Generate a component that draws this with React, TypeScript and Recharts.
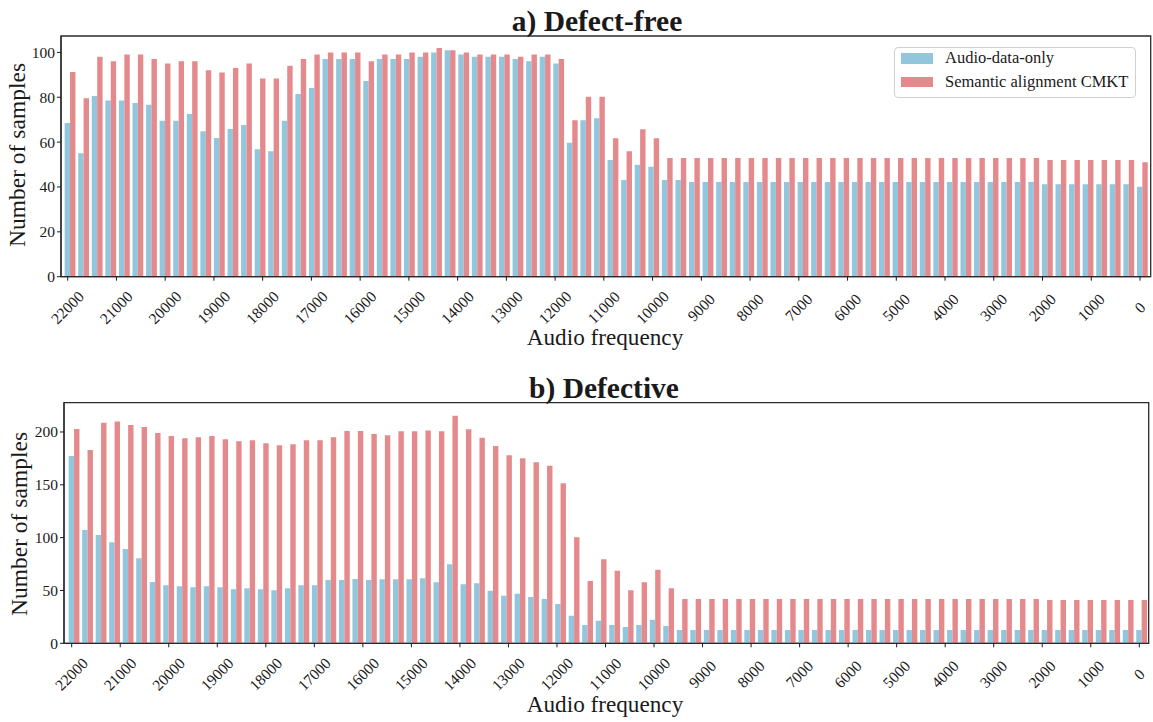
import React from "react";
import { BarChart, Bar, XAxis, YAxis, Legend, ReferenceArea } from "recharts";

// 80 frequency bins, 22000 Hz down to 0
const FREQS = [
  22000, 21722, 21443, 21165, 20886, 20608, 20329, 20051, 19772, 19494,
  19215, 18937, 18658, 18380, 18101, 17823, 17544, 17266, 16987, 16709,
  16430, 16152, 15873, 15595, 15316, 15038, 14759, 14481, 14203, 13924,
  13646, 13367, 13089, 12810, 12532, 12253, 11975, 11696, 11418, 11139,
  10861, 10582, 10304, 10025, 9747, 9468, 9190, 8911, 8633, 8354,
  8076, 7797, 7519, 7241, 6962, 6684, 6405, 6127, 5848, 5570,
  5291, 5013, 4734, 4456, 4177, 3899, 3620, 3342, 3063, 2785,
  2506, 2228, 1949, 1671, 1392, 1114, 835, 557, 278, 0,
];

// a) Defect-free
const CLEAN_AUDIO = [
  68.5, 55, 80.5, 78.5, 78.5, 77.4, 76.7, 69.5, 69.5, 72.5,
  64.8, 61.8, 65.8, 67.6, 56.8, 55.9, 69.5, 81.4, 84.1, 97,
  97, 97, 87.2, 97, 97, 97, 98, 100, 101, 99,
  98, 98, 98, 97, 96, 98, 95, 59.7, 69.7, 70.6,
  52, 43.1, 49.9, 49, 43.1, 43.1, 42.2, 42.2, 42.2, 42.2,
  42.2, 42.2, 42.2, 42.2, 42.2, 42.2, 42.2, 42.2, 42.2, 42.2,
  42.2, 42.2, 42.2, 42.2, 42.2, 42.2, 42.2, 42.2, 42.2, 42.2,
  42.2, 42.2, 41.2, 41.2, 41.2, 41.2, 41.2, 41.2, 41.2, 40.1,
];
const CLEAN_CMKT = [
  91.2, 79.5, 98, 96, 99, 99, 97, 95, 96, 96,
  92, 91, 93, 95, 88.3, 88.3, 94, 97, 99, 100,
  100, 100, 96, 99, 99, 100, 100, 102, 101, 100,
  99, 99, 99, 98, 99, 99, 97, 69.7, 80.2, 80.2,
  61.7, 55.9, 65.7, 61.7, 52.9, 52.9, 52.9, 52.9, 52.9, 52.9,
  52.9, 52.9, 52.9, 52.9, 52.9, 52.9, 52.9, 52.9, 52.9, 52.9,
  52.9, 52.9, 52.9, 52.9, 52.9, 52.9, 52.9, 52.9, 52.9, 52.9,
  52.9, 52.9, 52, 52, 52, 52, 52, 52, 52, 51,
];

// b) Defective
const DEFECT_AUDIO = [
  177.3, 107.3, 102.5, 95.6, 89.3, 80.4, 58, 54.9, 53.9, 53,
  53.9, 53, 51.1, 52, 51.1, 50.2, 52, 54.9, 54.9, 59.9,
  59.9, 60.9, 59.9, 60.5, 60.5, 60.5, 61.5, 57.7, 74.8, 55.8,
  56.8, 49.8, 45.1, 47, 43.8, 41.9, 37.2, 26.1, 17.3, 21.4,
  17.3, 15.4, 17.3, 22.3, 16.4, 12.6, 12.6, 12.6, 12.6, 12.6,
  12.6, 12.6, 12.6, 12.6, 12.6, 12.6, 12.6, 12.6, 12.6, 12.6,
  12.6, 12.6, 12.6, 12.6, 12.6, 12.6, 12.6, 12.6, 12.6, 12.6,
  12.6, 12.6, 12.6, 12.6, 12.6, 12.6, 12.6, 12.6, 12.6, 12.6,
];
const DEFECT_CMKT = [
  202.8, 183, 208.8, 209.8, 206.6, 204.7, 199, 196.2, 194, 195,
  196.2, 193, 191.2, 192.1, 189.3, 187.4, 188.3, 192.1, 192.1, 195,
  201, 201, 198, 196.8, 200.6, 200.6, 201.5, 200.6, 215.4, 202.5,
  194.6, 186.7, 177.9, 175.1, 171.3, 168.1, 151.4, 100.3, 59, 79.5,
  68.7, 50.1, 57.7, 69.7, 52, 41.9, 41.9, 41.9, 41.9, 41.9,
  41.9, 41.9, 41.9, 41.9, 41.9, 41.9, 41.9, 41.9, 41.9, 41.9,
  41.9, 41.9, 41.9, 41.9, 41.9, 41.9, 41.9, 41.9, 41.9, 41.9,
  41.9, 41.9, 41, 41, 41, 41, 41, 41, 41, 41,
];

const FREQ_TICKS = [
  22000, 21000, 20000, 19000, 18000, 17000, 16000, 15000, 14000, 13000, 12000,
  11000, 10000, 9000, 8000, 7000, 6000, 5000, 4000, 3000, 2000, 1000, 0,
];
const CLEAN_Y_TICKS = [0, 20, 40, 60, 80, 100];
const DEFECT_Y_TICKS = [0, 50, 100, 150, 200];

const BLUE = "#92C6DD";
const RED = "#E48A8C";
const INK = "#1a1a1a";
const FONT = "'Liberation Serif', 'Times New Roman', serif";

const toRows = (audio: number[], cmkt: number[]) =>
  FREQS.map((freq, i) => ({ freq, audio: audio[i], cmkt: cmkt[i] }));

function AngledTick({ x, y, payload }: any) {
  const cy = y + 25;
  return (
    <text
      x={x}
      y={cy}
      dy="0.33em"
      textAnchor="middle"
      transform={`rotate(-45, ${x}, ${cy})`}
      fontSize={15.5}
      fontFamily={FONT}
      fill={INK}
    >
      {payload.value}
    </text>
  );
}

function LegendBox({ payload }: any) {
  return (
    <div
      style={{
        position: "relative",
        width: 242,
        height: 51,
        boxSizing: "border-box",
        border: "1px solid #d0d0d0",
        borderRadius: 4,
        background: "rgba(255,255,255,0.85)",
        fontFamily: FONT,
        fontSize: 16.5,
        color: INK,
      }}
    >
      {(payload || []).map((item: any, i: number) => (
        <div
          key={item.value}
          style={{ position: "absolute", left: 6, top: 5.6 + i * 23.4, display: "flex", alignItems: "center", height: 10.7 }}
        >
          <span style={{ display: "inline-block", width: 32, height: 10.7, background: item.color }} />
          <span style={{ marginLeft: 12, whiteSpace: "nowrap", lineHeight: "10.7px" }}>{item.value}</span>
        </div>
      ))}
    </div>
  );
}

interface PanelProps {
  rows: { freq: number; audio: number; cmkt: number }[];
  yMax: number;
  yTicks: number[];
  height: number;
  margin: { top: number; right: number; bottom: number; left: number };
  xDomain: [number, number];
  shift: number; // Hz, puts the blue bar centred on its frequency
  barSize: number;
  legend?: boolean;
}

function Panel({ rows, yMax, yTicks, height, margin, xDomain, shift, barSize, legend }: PanelProps) {
  const frame = { stroke: "#2b2b2b", strokeWidth: 1.3 };
  return (
    <BarChart width={1153} height={height} data={rows} margin={margin} barGap={0}>
      <XAxis
        xAxisId="freq"
        dataKey="freq"
        type="number"
        domain={xDomain}
        reversed
        allowDataOverflow
        ticks={FREQ_TICKS}
        interval={0}
        tick={<AngledTick />}
        tickSize={4}
        tickMargin={2}
        height={60}
        axisLine={frame}
        tickLine={{ stroke: INK }}
      />
      <XAxis
        xAxisId="bars"
        dataKey="freq"
        type="number"
        domain={[xDomain[0] + shift, xDomain[1] + shift]}
        reversed
        hide
        height={0}
        allowDataOverflow
      />
      <YAxis
        yAxisId="y"
        type="number"
        domain={[0, yMax]}
        allowDataOverflow
        ticks={yTicks}
        interval={0}
        width={45}
        tickSize={4}
        tickMargin={2}
        tick={{ fontSize: 15.5, fontFamily: FONT, fill: INK }}
        axisLine={frame}
        tickLine={{ stroke: INK }}
      />
      <Bar xAxisId="bars" yAxisId="y" dataKey="audio" name="Audio-data-only" fill={BLUE} barSize={barSize} isAnimationActive={false} />
      <Bar xAxisId="bars" yAxisId="y" dataKey="cmkt" name="Semantic alignment CMKT" fill={RED} barSize={barSize} isAnimationActive={false} />
      {/* plot frame (top and right spines) */}
      <ReferenceArea
        xAxisId="freq"
        yAxisId="y"
        x1={xDomain[1]}
        x2={xDomain[0]}
        y1={0}
        y2={yMax}
        fill="none"
        fillOpacity={0}
        stroke="#2b2b2b"
        strokeWidth={1.3}
        strokeOpacity={1}
        ifOverflow="visible"
      />
      {legend && (
        <Legend
          layout="horizontal"
          verticalAlign="middle"
          align="center"
          content={<LegendBox />}
          wrapperStyle={{ left: 894, top: 46.7, width: 242, height: 51 }}
        />
      )}
    </BarChart>
  );
}

export default function App() {
  const textStyle = { fontFamily: FONT, fill: INK };
  return (
    <div style={{ position: "absolute", left: 0, top: 0, width: 1153, height: 722, background: "#fff" }}>
      <div style={{ position: "absolute", left: 0, top: 0 }}>
        <Panel
          rows={toRows(CLEAN_AUDIO, CLEAN_CMKT)}
          yMax={107.3}
          yTicks={CLEAN_Y_TICKS}
          height={370}
          margin={{ top: 36, right: 2.3, bottom: 33.3, left: 16 }}
          xDomain={[-219.5, 22137.5]}
          shift={55.7}
          barSize={5.4}
          legend
        />
      </div>
      <div style={{ position: "absolute", left: 0, top: 370 }}>
        <Panel
          rows={toRows(DEFECT_AUDIO, DEFECT_CMKT)}
          yMax={227.7}
          yTicks={DEFECT_Y_TICKS}
          height={352}
          margin={{ top: 32.7, right: 4.3, bottom: 18.7, left: 19 }}
          xDomain={[-193.7, 22158.7]}
          shift={55.7}
          barSize={5.4}
        />
      </div>

      {/* titles and axis labels */}
      <svg width={1153} height={722} style={{ position: "absolute", left: 0, top: 0, pointerEvents: "none" }}>
        <text x={597} y={31} textAnchor="middle" fontSize={29.5} fontWeight="bold" {...textStyle}>a) Defect-free</text>
        <text x={604} y={397.5} textAnchor="middle" fontSize={29.5} fontWeight="bold" {...textStyle}>b) Defective</text>
        <text x={605} y={345} textAnchor="middle" fontSize={23.2} {...textStyle}>Audio frequency</text>
        <text x={605} y={711.5} textAnchor="middle" fontSize={23.2} {...textStyle}>Audio frequency</text>
        <text transform="translate(25,155) rotate(-90)" textAnchor="middle" fontSize={23.5} {...textStyle}>Number of samples</text>
        <text transform="translate(27,524) rotate(-90)" textAnchor="middle" fontSize={23.5} {...textStyle}>Number of samples</text>
      </svg>
    </div>
  );
}
